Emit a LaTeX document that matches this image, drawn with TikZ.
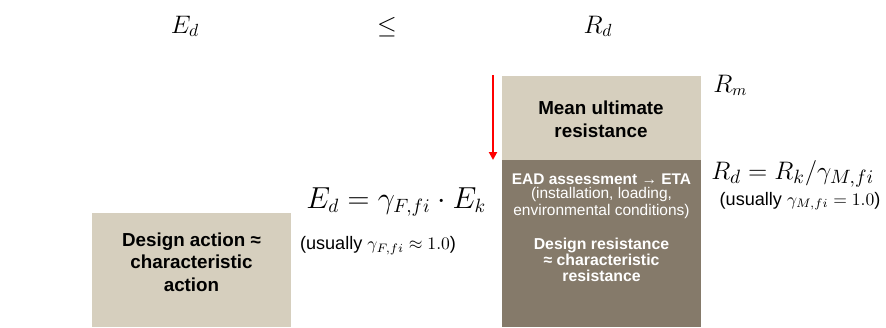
\documentclass[tikz,border=0pt]{standalone}
\usepackage[no-math]{fontspec}
\setmainfont{Liberation Sans}
\usepackage{amsmath,amssymb}
\usetikzlibrary{arrows.meta,positioning,calc}
\definecolor{sandlight}{RGB}{214,207,190}
\definecolor{sanddark}{RGB}{133,122,106}

\begin{document}
\begin{tikzpicture}[
    panel/.style={inner sep=0pt, minimum width=3.98cm, anchor=south west},
    headline/.style={font=\fontsize{14}{16}\selectfont, anchor=base},
    formula/.style={font=\fontsize{16.2}{18}\selectfont, anchor=base west, inner sep=0pt},
    remark/.style={font=\fontsize{10.3}{12}\selectfont, anchor=base, inner sep=0pt},
    boldtext/.style={align=center, font=\bfseries\fontsize{10.7}{12.8}\selectfont},
    smalltext/.style={align=center, text=white, font=\fontsize{8.8}{8.2}\selectfont}
  ]
    \useasboundingbox (0,0) rectangle (17.72,6.54);

    % the three panels
    \node[panel, fill=sandlight, minimum height=2.28cm] (action) at (1.84,0) {};
    \node[panel, fill=sanddark, minimum height=3.34cm] (design) at (10.04,0) {};
    \node[panel, fill=sandlight, minimum height=1.68cm] (mean) at (10.04,3.34) {};

    % top line of the check
    \node[headline] (Ed) at (3.70,5.88) {$E_d$};
    \node[headline] (leq) at (7.74,5.88) {$\leq$};
    \node[headline] (Rd) at (11.96,5.88) {$R_d$};

    % texts in the panels
    \node[boldtext] (actiontext) at (3.83,1.30) {Design action ≈\\characteristic\\action};
    \node[boldtext] (meantext) at (12.02,4.15) {Mean ultimate\\resistance};
    \node[smalltext] (eadtext) at (12.03,2.62)
        {\textbf{EAD assessment → ETA}\\(installation, loading,\\environmental conditions)};
    \node[smalltext, font=\bfseries\fontsize{9}{9}\selectfont] (designtext) at (12.03,1.34)
        {Design resistance\\≈ characteristic\\resistance};

    % formulas beside the panels
    \node[formula, font=\fontsize{13.5}{16}\selectfont] (Rm) at (14.26,4.70) {$R_m$};
    \node[formula, font=\fontsize{15.4}{17}\selectfont] (Rdform) at (14.22,2.96) {$R_d = R_k/\gamma_{M,fi}$};
    \node[remark] (Rdnote) at (16.00,2.44) {(usually $\gamma_{M,fi} = 1.0$)};
    \node[formula] (Edform) at (6.12,2.38) {$E_d = \gamma_{F,fi}\cdot E_k$};
    \node[remark] (Ednote) at (7.56,1.55) {(usually $\gamma_{F,fi} \approx 1.0$)};

    % reduction arrow
    \coordinate (arrtop) at ($(mean.north west)+(-0.18,0)$);
    \coordinate (arrbot) at ($(mean.south west)+(-0.18,0)$);
    \draw[red, line width=1.1pt, -{Triangle[length=4.5pt,width=4.5pt]}] (arrtop) -- (arrbot);

\end{tikzpicture}
\end{document}
